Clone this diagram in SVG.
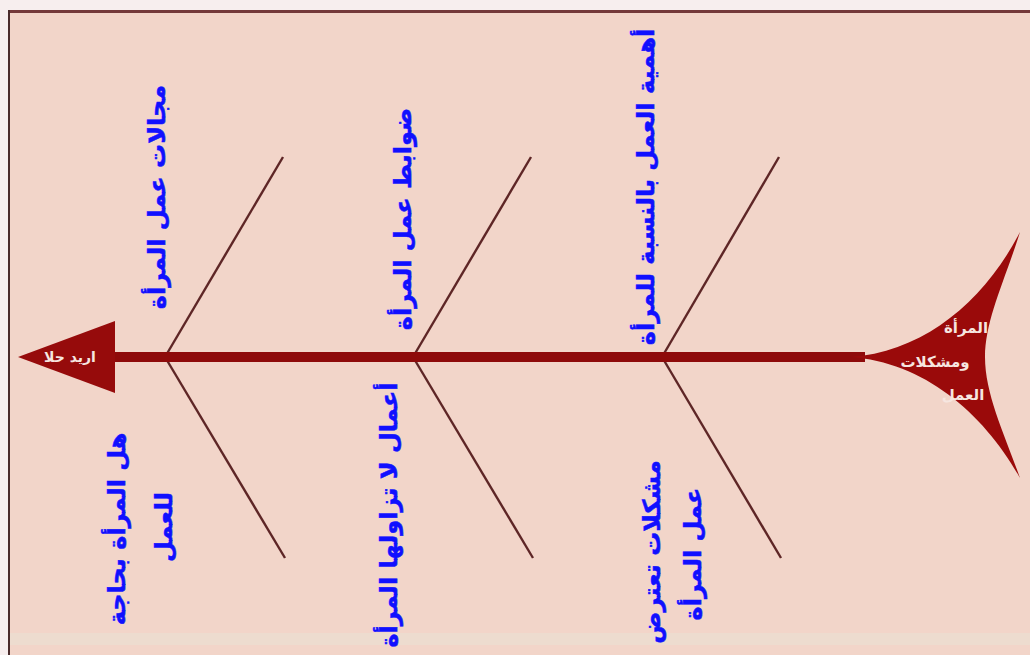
<svg xmlns="http://www.w3.org/2000/svg" width="1030" height="655" viewBox="0 0 1030 655">
<style>
.lbl{font-family:"DejaVu Sans",sans-serif;font-weight:bold;font-size:24px;fill:#1010ff;text-anchor:middle;stroke:#1010ff;stroke-width:0.5}
.wt{font-family:"DejaVu Sans",sans-serif;font-weight:bold;font-size:15px;fill:#f6e6e0;text-anchor:middle}
.bone{stroke:#5e2626;stroke-width:2.4;fill:none}
</style>
<rect x="0" y="0" width="1030" height="655" fill="#f7eeee"/>
<rect x="8" y="10" width="1022" height="645" fill="#f2d5c9"/>
<rect x="8" y="633" width="1022" height="12" fill="#eddccf"/>
<line x1="8" y1="11.5" x2="1030" y2="11.5" stroke="#74393a" stroke-width="3"/>
<line x1="9" y1="10" x2="9" y2="655" stroke="#4a2a2a" stroke-width="2"/>
<g id="connectors">
<line class="bone" x1="165" y1="357" x2="283" y2="157"/>
<line class="bone" x1="165" y1="357" x2="285" y2="558"/>
<line class="bone" x1="413" y1="357" x2="531" y2="157"/>
<line class="bone" x1="413" y1="357" x2="533" y2="558"/>
<line class="bone" x1="662" y1="357" x2="779" y2="157"/>
<line class="bone" x1="662" y1="357" x2="781" y2="558"/>
<line x1="110" y1="357" x2="865" y2="357" stroke="#8e0a0a" stroke-width="10"/>
</g>
<g id="head">
<polygon points="18,357 115,321 115,393" fill="#960b0b"/>
<text class="wt" x="70" y="362" style="font-size:14px">اريد حلا</text>
</g>
<g id="tail">
<path d="M850,357 C925,352 985,300 1020,232 C1005,280 985,320 985,357 C985,395 1005,435 1020,478 C985,415 925,362 850,357 Z" fill="#9a0a0a"/>
<text class="wt" x="966" y="333">المرأة</text>
<text class="wt" x="935" y="367">ومشكلات</text>
<text class="wt" x="963" y="400">العمل</text>
</g>
<g id="n1"><text class="lbl" transform="translate(157,197) rotate(-90)" dy="0.35em">مجالات عمل المرأة</text></g>
<g id="n2"><text class="lbl" transform="translate(117,529) rotate(-90)" dy="0.35em">هل المرأة بحاجة</text>
<text class="lbl" transform="translate(164,527) rotate(-90)" dy="0.35em">للعمل</text></g>
<g id="n3"><text class="lbl" transform="translate(403,219) rotate(-90)" dy="0.35em">ضوابط عمل المرأة</text></g>
<g id="n4"><text class="lbl" transform="translate(389,515) rotate(-90)" dy="0.35em">أعمال لا تزاولها المرأة</text></g>
<g id="n5"><text class="lbl" transform="translate(646,187) rotate(-90)" dy="0.35em">أهمية العمل بالنسبة للمرأة</text></g>
<g id="n6"><text class="lbl" transform="translate(652,552) rotate(-90)" dy="0.35em">مشكلات تعترض</text>
<text class="lbl" transform="translate(693,554) rotate(-90)" dy="0.35em">عمل المرأة</text></g>
</svg>
